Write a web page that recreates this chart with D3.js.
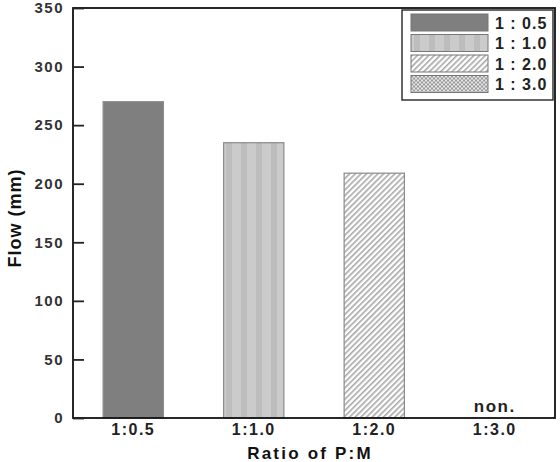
<!DOCTYPE html>
<html>
<head>
<meta charset="utf-8" />
<script src="https://d3js.org/d3.v7.min.js"></script>
<style>
  body { margin: 0; background: #fff; }
  text { font-family: "Liberation Sans", Arial, sans-serif; font-weight: bold; }
</style>
</head>
<body>
<svg width="560" height="462"></svg>
<script>
// data
const categories = ["1:0.5", "1:1.0", "1:2.0", "1:3.0"];
const flowValues = [270, 235, 209, null]; // 1:3.0 did not flow
const legendLabels = ["1 : 0.5", "1 : 1.0", "1 : 2.0", "1 : 3.0"];
const yTicks = [0, 50, 100, 150, 200, 250, 300, 350];

const svg = d3.select("svg");
const margin = { left: 73, right: 5, top: 8, bottom: 44 };
const width = 560 - margin.left - margin.right;
const height = 462 - margin.top - margin.bottom;

// fill patterns
const defs = svg.append("defs");

const vs = defs.append("pattern").attr("id", "vstripe")
  .attr("patternUnits", "userSpaceOnUse").attr("width", 15).attr("height", 10);
vs.append("rect").attr("width", 15).attr("height", 10).attr("fill", "#cbcbcb");
vs.append("rect").attr("x", 3).attr("width", 6).attr("height", 10).attr("fill", "#bdbdbd");

const dg = defs.append("pattern").attr("id", "diag")
  .attr("patternUnits", "userSpaceOnUse").attr("width", 4).attr("height", 4)
  .attr("patternTransform", "rotate(45)");
dg.append("rect").attr("width", 4).attr("height", 4).attr("fill", "#fff");
dg.append("rect").attr("width", 1.6).attr("height", 4).attr("fill", "#a8a8a8");

const ck = defs.append("pattern").attr("id", "check")
  .attr("patternUnits", "userSpaceOnUse").attr("width", 4).attr("height", 4);
ck.append("rect").attr("width", 4).attr("height", 4).attr("fill", "#e6e6e6");
ck.append("rect").attr("width", 2).attr("height", 2).attr("fill", "#9a9a9a");
ck.append("rect").attr("x", 2).attr("y", 2).attr("width", 2).attr("height", 2).attr("fill", "#9a9a9a");

const fills = ["#7f7f7f", "url(#vstripe)", "url(#diag)", "url(#check)"];

const g = svg.append("g").attr("transform", `translate(${margin.left},${margin.top})`);

const x = d3.scaleBand().domain(categories).range([0, width])
  .paddingInner(0.5).paddingOuter(0.25);
const y = d3.scaleLinear().domain([0, 350]).range([height, 0]);

// bars
g.selectAll(".bar")
  .data(categories.map((c, i) => ({ c, v: flowValues[i], i })).filter(d => d.v != null))
  .enter().append("rect")
  .attr("x", d => x(d.c))
  .attr("y", d => y(d.v))
  .attr("width", x.bandwidth())
  .attr("height", d => y(0) - y(d.v))
  .attr("fill", d => fills[d.i])
  .attr("stroke", "#8a8a8a")
  .attr("stroke-width", 1.2);

// "non." for missing bar
g.selectAll(".non")
  .data(categories.filter((c, i) => flowValues[i] == null))
  .enter().append("text")
  .attr("x", d => x(d) + x.bandwidth() / 2)
  .attr("y", y(0) - 6)
  .attr("text-anchor", "middle")
  .attr("font-size", 17)
  .attr("letter-spacing", 1.5)
  .attr("fill", "#222")
  .text("non.");

// frame
g.append("rect").attr("width", width).attr("height", height)
  .attr("fill", "none").attr("stroke", "#111").attr("stroke-width", 1.8);

// y axis
const yAxis = g.append("g")
  .call(d3.axisLeft(y).tickValues(yTicks).tickSize(-11).tickPadding(9));
yAxis.select(".domain").remove();
yAxis.selectAll(".tick line").attr("stroke", "#222").attr("stroke-width", 1.8);
yAxis.selectAll("text").attr("font-size", 15).attr("fill", "#333")
  .attr("letter-spacing", 1.5)
  .attr("font-family", "Liberation Sans, Arial, sans-serif").attr("font-weight", "bold");

// x axis
const xAxis = g.append("g").attr("transform", `translate(0,${height})`)
  .call(d3.axisBottom(x).tickSize(0).tickPadding(6));
xAxis.select(".domain").remove();
xAxis.selectAll("text").attr("font-size", 16).attr("fill", "#222")
  .attr("letter-spacing", 1.5)
  .attr("font-family", "Liberation Sans, Arial, sans-serif").attr("font-weight", "bold");

// axis titles
svg.append("text")
  .attr("transform", `translate(21,${margin.top + height / 2 + 5}) rotate(-90)`)
  .attr("text-anchor", "middle")
  .attr("font-size", 18).attr("letter-spacing", 1).attr("fill", "#111")
  .text("Flow (mm)");

svg.append("text")
  .attr("x", 310).attr("y", 459)
  .attr("text-anchor", "middle")
  .attr("font-size", 17).attr("letter-spacing", 2.2).attr("fill", "#111")
  .text("Ratio of P:M");

// legend
const lg = svg.append("g").attr("transform", "translate(402,10)");
lg.append("rect").attr("width", 151).attr("height", 90)
  .attr("fill", "#fff").attr("stroke", "#333").attr("stroke-width", 1.5);
const rows = lg.selectAll(".row").data(legendLabels).enter().append("g")
  .attr("transform", (d, i) => `translate(9,${4 + i * 20.5})`);
rows.append("rect").attr("width", 77).attr("height", 17)
  .attr("fill", (d, i) => fills[i]).attr("stroke", "#777").attr("stroke-width", 1);
rows.append("text").attr("x", 84).attr("y", 14.5)
  .attr("font-size", 16).attr("letter-spacing", 1).attr("fill", "#222")
  .text(d => d);
</script>
</body>
</html>
